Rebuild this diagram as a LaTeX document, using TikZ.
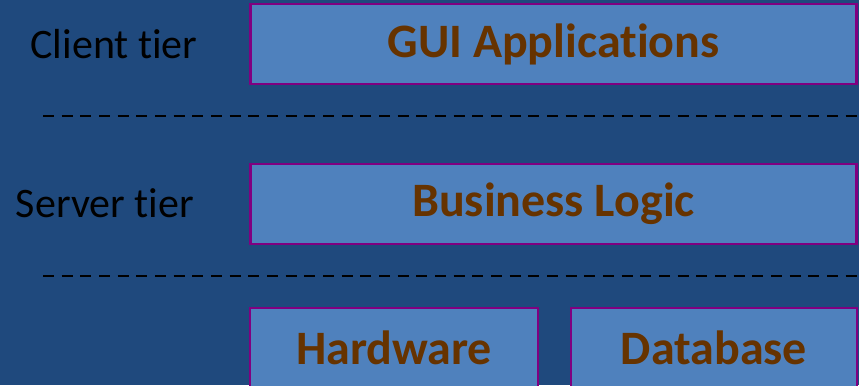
\documentclass[tikz,border=0pt]{standalone}
\usepackage{fontspec}
\setmainfont[Ligatures={NoCommon}]{Carlito}
\definecolor{slidebg}{RGB}{31,73,125}
\definecolor{tierfill}{RGB}{79,129,189}
\definecolor{tierline}{RGB}{128,0,128}
\definecolor{tiertext}{RGB}{102,51,0}
\tikzset{every picture/.style={line width=0.75pt},
  tierbox/.style={draw=tierline, fill=tierfill, line width=2.1pt, inner sep=0pt,
    text=tiertext, font=\fontsize{36}{40}\selectfont\bfseries},
  tierlabel/.style={inner sep=0.75pt, text=black, font=\fontsize{31.5}{36}\selectfont},
  tiersep/.style={line width=1.5pt, dash pattern=on 8.25pt off 5.75pt}}
\begin{document}
\begin{tikzpicture}[x=0.75pt,y=0.75pt,yscale=-1,xscale=1]
%set diagram left start at 0, and has height of 385
\useasboundingbox (0,0) rectangle (859,385);
\fill [slidebg] (0,0) rectangle (859,385);
\clip (0,0) rectangle (859,385);

%Shape: Rectangle [GUI Applications]
\node [tierbox, minimum width=455pt, minimum height=60pt] (gui) at (553.5,44) {GUI Applications};
%Shape: Rectangle [Business Logic]
\node [tierbox, minimum width=455pt, minimum height=60pt] (logic) at (553.5,204) {Business Logic};
%Shape: Rectangle [Hardware]
\node [tierbox, minimum width=216pt, minimum height=60pt] (hw) at (394,348) {Hardware};
%Shape: Rectangle [Database]
\node [tierbox, minimum width=214.5pt, minimum height=60pt] (db) at (714,348) {Database};

%Straight Lines [tier separators]
\draw [tiersep] (43,116) -- (859,116) ;
\draw [tiersep] (43,276) -- (859,276) ;

% Text Node
\node [tierlabel] (client) at (114,44) {Client tier};
% Text Node
\node [tierlabel] (server) at (105,203) {Server tier};

\end{tikzpicture}
\end{document}
